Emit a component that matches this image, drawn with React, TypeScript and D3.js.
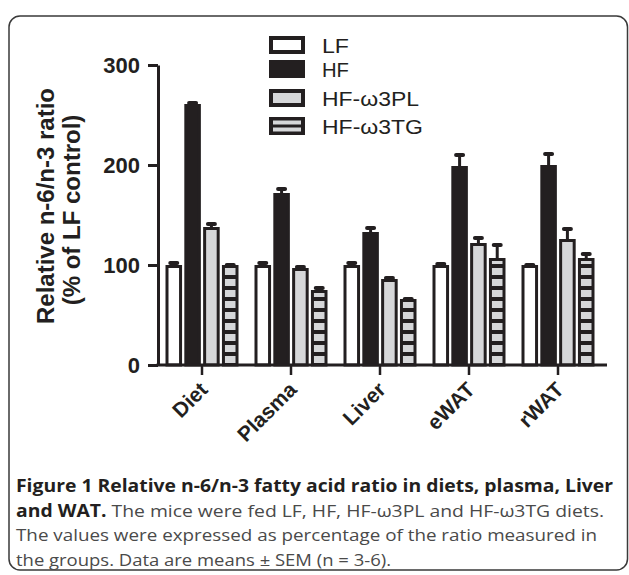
import React, { useEffect, useRef } from 'react';
import * as d3 from 'd3';

const categories = ['Diet', 'Plasma', 'Liver', 'eWAT', 'rWAT'];
const seriesNames = ['LF', 'HF', 'HF-ω3PL', 'HF-ω3TG'];

const lfValues = [100, 100, 100, 100, 100];
const lfErrors = [3, 3, 3, 2, 1];
const hfValues = [261, 172, 133, 199, 200];
const hfErrors = [2, 5, 5, 12, 12];
const plValues = [138, 97, 86, 122, 126];
const plErrors = [4, 2, 2, 6, 11];
const tgValues = [100, 75, 66, 107, 107];
const tgErrors = [1, 3, 1, 14, 5];

const yTicks = [0, 100, 200, 300];

const INK = '#231f20';
const GRAY = '#d6d7d9';

const W = 629;
const H = 575;

const App: React.FC = () => {
    const yAxisRef = useRef<SVGGElement>(null);
    const xAxisRef = useRef<SVGGElement>(null);

    const y = d3.scaleLinear().domain([0, 300]).range([365, 65]);
    const x0 = d3.scaleBand().domain(categories).range([157.5, 602.5]).padding(0);
    const x1 = d3.scaleBand().domain(seriesNames).range([-36.5, 36.5]).paddingInner(0.12);

    const rows = categories.map((c, i) => ({
        cat: c,
        vals: [
            { s: 'LF', v: lfValues[i], e: lfErrors[i] },
            { s: 'HF', v: hfValues[i], e: hfErrors[i] },
            { s: 'HF-ω3PL', v: plValues[i], e: plErrors[i] },
            { s: 'HF-ω3TG', v: tgValues[i], e: tgErrors[i] },
        ],
    }));

    const fillFor = (s: string) => {
        if (s === 'LF') return '#ffffff';
        if (s === 'HF') return INK;
        if (s === 'HF-ω3PL') return GRAY;
        return 'url(#stripes)';
    };

    useEffect(() => {
        document.body.style.margin = '0';

        const ya = d3.select(yAxisRef.current);
        ya.selectAll('*').remove();
        ya.call(d3.axisLeft(y).tickValues(yTicks).tickSize(10).tickSizeOuter(0).tickPadding(8) as any);
        ya.select('.domain').attr('stroke', INK).attr('stroke-width', 3);
        ya.selectAll('.tick line').attr('stroke', INK).attr('stroke-width', 3);
        ya.selectAll('.tick text')
            .attr('fill', INK)
            .style('font-family', '"Liberation Sans", Arial, sans-serif')
            .style('font-size', '22px')
            .style('font-weight', 'bold');

        const xa = d3.select(xAxisRef.current);
        xa.selectAll('*').remove();
        xa.call(d3.axisBottom(x0).tickSize(10).tickSizeOuter(0) as any);
        xa.select('.domain').remove();
        xa.insert('line', ':first-child')
            .attr('x1', 156.5).attr('x2', 607)
            .attr('y1', 0).attr('y2', 0)
            .attr('stroke', INK).attr('stroke-width', 3);
        xa.selectAll('.tick line').attr('stroke', INK).attr('stroke-width', 2.5);
        xa.selectAll('.tick text')
            .attr('fill', INK)
            .attr('y', 0).attr('dy', 0)
            .attr('transform', 'translate(7,26) rotate(-45)')
            .style('text-anchor', 'end')
            .style('font-family', '"Liberation Sans", Arial, sans-serif')
            .style('font-size', '21px')
            .style('font-weight', 'bold');
    }, []);

    const legendTop = [36, 60, 89, 117];
    const sw = 36;
    const sh = 18;

    const capFont = '"Open Sans", "Noto Sans", sans-serif';

    return (
        <svg width={W} height={H} style={{ position: 'absolute', left: 0, top: 0, background: '#fff' }}>
            <defs>
                <pattern id="stripes" patternUnits="userSpaceOnUse" width={40} height={11} y={365}>
                    <rect width={40} height={11} fill={INK} />
                    <rect y={2} width={40} height={7} fill={GRAY} />
                </pattern>
            </defs>

            <rect x={9} y={16} width={618.5} height={554} rx={11} fill="none" stroke="#3a3a3a" strokeWidth={1.5} />

            {/* bars */}
            {rows.map((r) => (
                <g key={r.cat} transform={`translate(${(x0(r.cat) as number) + x0.bandwidth() / 2},0)`}>
                    {r.vals.map((d) => {
                        const bx = x1(d.s) as number;
                        const bw = x1.bandwidth();
                        const top = y(d.v);
                        const cx = bx + bw / 2;
                        return (
                            <g key={d.s}>
                                <line x1={cx} x2={cx} y1={top} y2={y(d.v + d.e)} stroke={INK} strokeWidth={3} />
                                <line x1={cx - 3.5} x2={cx + 3.5} y1={y(d.v + d.e) + 1} y2={y(d.v + d.e) + 1}
                                    stroke={INK} strokeWidth={4} strokeLinecap="round" />
                                <rect x={bx + 1.5} y={top + 1.5} width={bw - 3} height={y(0) - top - 1.5}
                                    fill={fillFor(d.s)} stroke={INK} strokeWidth={3} />
                            </g>
                        );
                    })}
                </g>
            ))}

            <g ref={yAxisRef} transform="translate(158,0)" />
            <g ref={xAxisRef} transform="translate(0,365)" />

            {/* y title */}
            <g fontFamily='"Liberation Sans", Arial, sans-serif' fontWeight="bold" fontSize={24} fill={INK} textAnchor="middle">
                <text transform="translate(54,206) rotate(-90)">Relative n-6/n-3 ratio</text>
                <text transform="translate(80,210) rotate(-90)">(% of LF control)</text>
            </g>

            {/* legend */}
            <g fontFamily='"Liberation Sans", Arial, sans-serif' fontSize={21} fill={INK}>
                {seriesNames.map((s, i) => {
                    const ty = legendTop[i];
                    return (
                        <g key={s}>
                            {s === 'HF-ω3TG' ? (
                                <g>
                                    <rect x={269} y={ty} width={sw} height={sh} fill={INK} />
                                    <rect x={273} y={ty + 3.5} width={sw - 8} height={4} fill={GRAY} />
                                    <rect x={273} y={ty + 10.5} width={sw - 8} height={4} fill={GRAY} />
                                </g>
                            ) : (
                                <rect x={271} y={ty + 2} width={sw - 4} height={sh - 4}
                                    fill={fillFor(s)} stroke={INK} strokeWidth={4} />
                            )}
                            <text x={322} y={ty + sh / 2 + 7.5} textLength={s.length > 2 ? (s === 'HF-ω3PL' ? 97 : 101) : 27}
                                lengthAdjust="spacingAndGlyphs">{s}</text>
                        </g>
                    );
                })}
            </g>

            {/* caption */}
            <g fontFamily={capFont} fontSize={17}>
                <text x={16} y={492} fill={INK} fontWeight="bold" textLength={597} lengthAdjust="spacingAndGlyphs">
                    Figure 1 Relative n-6/n-3 fatty acid ratio in diets, plasma, Liver
                </text>
                <text x={16} y={516.5} textLength={588} lengthAdjust="spacingAndGlyphs">
                    <tspan fontWeight="bold" fill={INK}>and WAT.</tspan>
                    <tspan fill="#4a4a4a"> The mice were fed LF, HF, HF-ω3PL and HF-ω3TG diets.</tspan>
                </text>
                <text x={16} y={541} fill="#4a4a4a" textLength={581} lengthAdjust="spacingAndGlyphs">
                    The values were expressed as percentage of the ratio measured in
                </text>
                <text x={16} y={565.5} fill="#4a4a4a" textLength={375} lengthAdjust="spacingAndGlyphs">
                    the groups. Data are means ± SEM (n = 3-6).
                </text>
            </g>
        </svg>
    );
};

export default App;
